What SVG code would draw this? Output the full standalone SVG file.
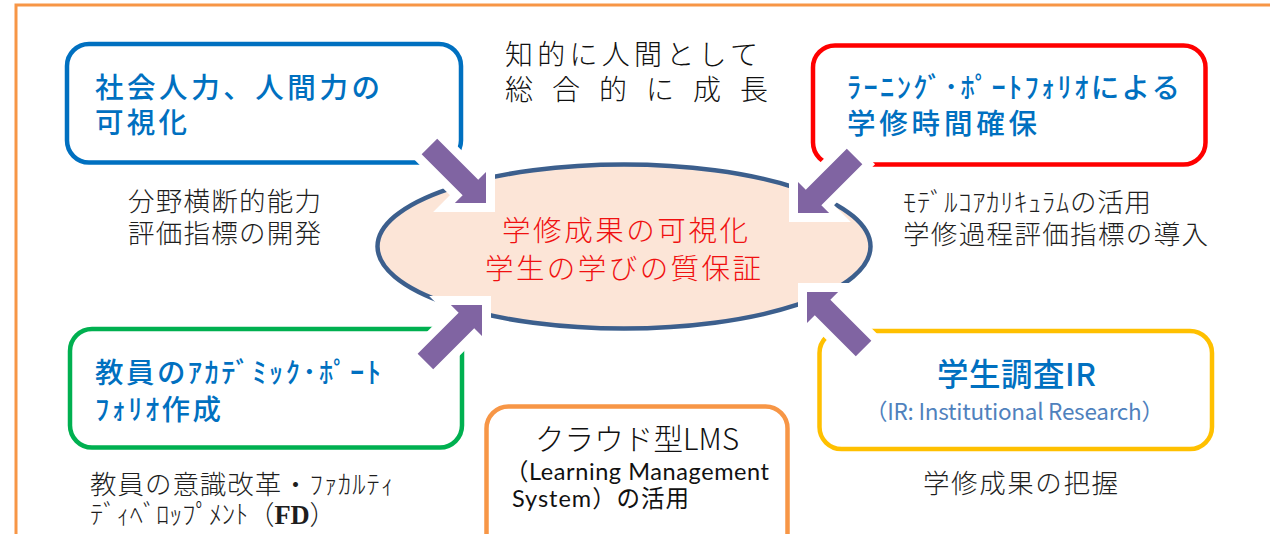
<svg xmlns="http://www.w3.org/2000/svg" xmlns:xlink="http://www.w3.org/1999/xlink" width="1270" height="534" viewBox="0 0 1270 534">
<style>
.box{fill:#fff;stroke-width:4.5}
.hd{font-family:"Noto Sans CJK JP",sans-serif;fill:#0070C0;font-size:28.5px;font-weight:500}
.sub{font-family:"Noto Sans CJK JP",sans-serif;fill:#1e1e1e;font-size:26.5px;font-weight:300}
.ttl{font-family:"Noto Sans CJK JP",sans-serif;fill:#111;font-size:28px;font-weight:300}
.ctr{font-family:"Noto Sans CJK JP",sans-serif;fill:#F01010;font-size:28.5px;font-weight:300}
.lms{font-family:Lato,"Noto Sans CJK JP",sans-serif;fill:#111;font-size:23.5px}
.arr{fill:#8064A2;stroke:#fff;stroke-width:18;stroke-linejoin:miter;paint-order:stroke fill}
</style>
<defs>
<polygon id="arrow" points="0,0 -22,22 -22,11 -80,11 -80,-11 -22,-11 -22,-22"/>
</defs>
<path d="M16,534 V5 H1270" fill="none" stroke="#F79646" stroke-width="3"/>
<g id="node-social">
<rect class="box" x="67" y="44" width="394" height="118.5" rx="22" stroke="#0070C0"/>
<text class="hd" x="95" y="98" textLength="285" lengthAdjust="spacing">社会人力、人間力の</text>
<text class="hd" x="95" y="133" textLength="92" lengthAdjust="spacing">可視化</text>
<text class="sub" x="128" y="211" textLength="193" lengthAdjust="spacing">分野横断的能力</text>
<text class="sub" x="128" y="243" textLength="193" lengthAdjust="spacing">評価指標の開発</text>
</g>
<g id="node-portfolio">
<rect class="box" x="813" y="45.5" width="392.5" height="119" rx="22" stroke="#FF0000"/>
<text class="hd" x="847" y="98" textLength="333" lengthAdjust="spacing">ﾗｰﾆﾝｸﾞ･ﾎﾟｰﾄﾌｫﾘｵによる</text>
<text class="hd" x="847" y="134" textLength="190" lengthAdjust="spacing">学修時間確保</text>
<text class="sub" x="903" y="212" textLength="248" lengthAdjust="spacing">ﾓﾃﾞﾙｺｱｶﾘｷｭﾗﾑの活用</text>
<text class="sub" x="903" y="244" textLength="305" lengthAdjust="spacing">学修過程評価指標の導入</text>
</g>
<g id="node-academic">
<rect class="box" x="70" y="329" width="392" height="118.5" rx="22" stroke="#00B050"/>
<text class="hd" x="95" y="383" textLength="286" lengthAdjust="spacing">教員のｱｶﾃﾞﾐｯｸ･ﾎﾟｰﾄ</text>
<text class="hd" x="95" y="420" textLength="126" lengthAdjust="spacing">ﾌｫﾘｵ作成</text>
<text class="sub" x="90" y="494" textLength="304" lengthAdjust="spacing">教員の意識改革・ﾌｧｶﾙﾃｨ</text>
<text class="sub" x="90" y="524" textLength="246" lengthAdjust="spacing">ﾃﾞｨﾍﾞﾛｯﾌﾟﾒﾝﾄ（<tspan style="font-family:'Liberation Serif',serif;font-weight:bold">FD</tspan>）</text>
</g>
<g id="node-lms">
<rect class="box" x="486.5" y="406.5" width="301" height="160" rx="22" stroke="#F79646"/>
<text x="535" y="450" style="font-family:'Noto Sans CJK JP',sans-serif;font-size:29.5px;font-weight:300;fill:#111" textLength="204" lengthAdjust="spacing">クラウド型LMS</text>
<text class="lms" x="505" y="480" textLength="264" lengthAdjust="spacing">（Learning Management</text>
<text class="lms" x="512" y="507" textLength="177" lengthAdjust="spacing">System）の活用</text>
</g>
<g id="node-ir">
<rect class="box" x="819.5" y="331" width="392.5" height="118" rx="22" stroke="#FFC000"/>
<text class="hd" x="937" y="386" style="font-size:31.5px" textLength="159" lengthAdjust="spacing">学生調査IR</text>
<text x="865" y="420" style="font-family:'Noto Sans CJK JP',sans-serif;font-size:22.5px;fill:#4F81BD" textLength="299" lengthAdjust="spacing">（IR: Institutional Research）</text>
<text class="sub" x="923" y="493" textLength="195" lengthAdjust="spacing">学修成果の把握</text>
</g>
<g id="node-center">
<ellipse cx="624" cy="246.5" rx="246.5" ry="82" fill="#FCE5D7" stroke="#3C5F8D" stroke-width="4.5"/>
</g>
<g id="connectors">
<use xlink:href="#arrow" class="arr" transform="translate(486,203) rotate(45)"/>
<use xlink:href="#arrow" class="arr" transform="translate(798,213) rotate(135)"/>
<use xlink:href="#arrow" class="arr" transform="translate(482,305) rotate(-45)"/>
<use xlink:href="#arrow" class="arr" transform="translate(807,292) rotate(-135)"/>
</g>
<g id="center-text">
<text class="ctr" x="502" y="241" textLength="246" lengthAdjust="spacing">学修成果の可視化</text>
<text class="ctr" x="485" y="279" textLength="276" lengthAdjust="spacing">学生の学びの質保証</text>
</g>
<g id="title">
<text class="ttl" x="505" y="64.5" textLength="253" lengthAdjust="spacing">知的に人間として</text>
<text class="ttl" x="505" y="99.5" textLength="263" lengthAdjust="spacing">総合的に成長</text>
</g>
</svg>
